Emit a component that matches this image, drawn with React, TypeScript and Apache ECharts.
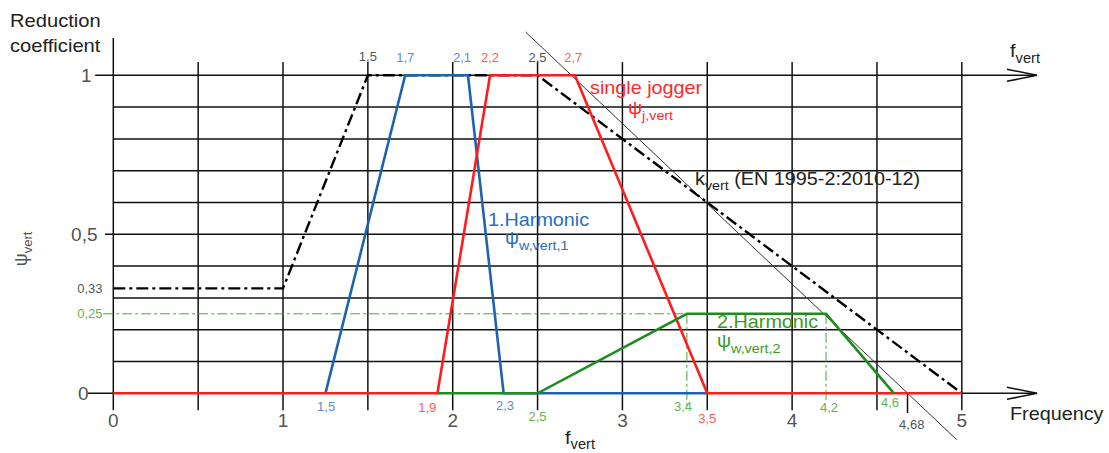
import React, { useEffect, useRef } from "react";
import * as echarts from "echarts";

// ---------------- data ----------------
const gridLinesX = [0, 0.5, 1, 1.5, 2, 2.5, 3, 3.5, 4, 4.5, 5];
const gridLinesY = [0.1, 0.2, 0.3, 0.4, 0.5, 0.6, 0.7, 0.8, 0.9];

const kVert = [[0, 0.33], [1, 0.33], [1.5, 1], [2.5, 1], [5, 0]];
const harmonic1 = [[1.25, 0], [1.72, 1], [2.09, 1], [2.3, 0], [3.5, 0]];
const singleJogger = [[0, 0], [1.91, 0], [2.22, 1], [2.72, 1], [3.5, 0], [5, 0]];
const harmonic2 = [[1.91, 0], [2.5, 0], [3.38, 0.25], [4.2, 0.25], [4.6, 0]];
const guideLine = [[2.43, 1.136], [4.97, -0.146]];
const harmonic2Level = 0.25;
const harmonic2Drops = [3.38, 4.2];
const kVertZero = 4.68;

const xTickValues = [0, 1, 2, 3, 4, 5];
const xTickLabels = ["0", "1", "2", "3", "4", "5"];
const yTickValues = [1, 0.5, 0.33, 0.25, 0];
const yTickLabels = ["1", "0,5", "0,33", "0,25", "0"];
const yTickKinds = ["big", "big", "small", "smallGreen", "big"];

const pointLabelTexts = ["1,5", "1,7", "2,1", "2,2", "2,5", "2,7", "1,5", "1,9", "2,3", "2,5", "3,4", "3,5", "4,2", "4,6", "4,68"];
const pointLabelX = [1.5, 1.72, 2.055, 2.22, 2.5, 2.71, 1.254, 1.85, 2.308, 2.5, 3.357, 3.5, 4.217, 4.577, 4.705];
const pointLabelY = [1.058, 1.055, 1.055, 1.055, 1.055, 1.055, -0.04, -0.046, -0.037, -0.072, -0.043, -0.078, -0.046, -0.03, -0.097];
const pointLabelOwner = ["k", "h1", "h1", "j", "k", "j", "h1", "j", "h1", "h2", "h2", "j", "h2", "h2", "k"];

// ---------------- styles ----------------
const FONT = "'Liberation Sans', Arial, Helvetica, sans-serif";
const RED = "#ff1c1c";
const BLUE = "#1f62b0";
const GREEN = "#1f8c1f";
const RED_T = "#ff2a2a";
const BLUE_T = "#2a6cc0";
const GREEN_T = "#3a9a24";
const GREEN_DASH = "#46a83a";
const BLACK = "#111";
const ownerColor: Record<string, string> = { k: "#222", h1: BLUE_T, j: RED_T, h2: GREEN_T };

// axis window mapped onto the full canvas
const X_MIN = -0.6677, X_MAX = 5.8673;
const Y_MIN = -0.1877, Y_MAX = 1.2368;

function subRich(main: number, sub: number, pad: number) {
  return {
    m: { fontSize: main, fontFamily: FONT },
    s: { fontSize: sub, fontFamily: FONT, padding: [pad, 0, 0, 0] },
  };
}

function txt(x: number, y: number, text: string, fill: string, opts: any = {}) {
  return {
    type: "text",
    x,
    y,
    scaleX: opts.scaleX ?? 1.1,
    silent: true,
    z: 100,
    style: {
      text,
      rich: opts.rich,
      fill,
      fontSize: opts.fontSize ?? 18,
      fontFamily: FONT,
      lineHeight: opts.lineHeight,
      textAlign: opts.align ?? "left",
      align: opts.align ?? "left",
      textVerticalAlign: "middle",
      verticalAlign: "middle",
    },
  };
}

export default function App() {
  const ref = useRef<HTMLDivElement>(null);

  useEffect(() => {
    if (!ref.current) return;
    const chart = echarts.init(ref.current, undefined, { renderer: "svg" });

    // grid segments
    const gridSegs: any[] = [];
    gridLinesX.forEach((x) => gridSegs.push({ coords: [[x, -0.053], [x, x === 0 ? 1.117 : 1.042]] }));
    gridLinesY.forEach((y) => gridSegs.push({ coords: [[y === 0.5 ? -0.049 : 0, y], [5, y]] }));
    gridSegs.push({ coords: [[-0.107, 1], [5.443, 1]] });
    gridSegs.push({ coords: [[-0.149, 0], [5.443, 0]] });
    [1, 0].forEach((y) =>
      gridSegs.push({ coords: [[5.266, y + 0.019], [5.443, y], [5.266, y - 0.019]] })
    );
    gridSegs.push({ coords: [[kVertZero, 0], [kVertZero, -0.062]] });

    const greenDash: any[] = [{ coords: [[-0.06, harmonic2Level], [harmonic2Drops[0], harmonic2Level]] }];
    harmonic2Drops.forEach((x, i) =>
      greenDash.push({ coords: [[x, harmonic2Level], [x, i === 0 ? -0.04 : -0.03]] })
    );

    const lineSeries = (name: string, data: number[][], color: string, width: number, z: number, type: any = "solid") => ({
      name,
      type: "line",
      data,
      showSymbol: false,
      symbol: "none",
      silent: true,
      z,
      lineStyle: { color, width, type, cap: "butt", join: "miter" },
    });

    const pointLabelData = pointLabelTexts.map((t, i) => ({
      value: [pointLabelX[i], pointLabelY[i]],
      label: { formatter: t, color: ownerColor[pointLabelOwner[i]] },
    }));

    const yLabelData = yTickLabels.map((t, i) => {
      const kind = yTickKinds[i];
      return {
        value: [kind === "big" ? (t === "1" ? -0.125 : t === "0" ? -0.143 : -0.09) : -0.061, yTickValues[i] + (kind === "smallGreen" ? 0.002 : 0)],
        label: {
          formatter: t,
          fontSize: kind === "big" ? 19 : 13,
          color: kind === "smallGreen" ? GREEN_T : "#222",
        },
      };
    });

    const xLabelData = xTickLabels.map((t, i) => ({ value: [xTickValues[i], -0.084], label: { formatter: t } }));

    const labelScatter = (name: string, data: any[], label: any) => ({
      name,
      type: "scatter",
      symbol: "circle",
      symbolSize: 1,
      itemStyle: { color: "rgba(0,0,0,0)" },
      silent: true,
      z: 10,
      label: { show: true, fontFamily: FONT, ...label },
      data,
    });

    chart.setOption({
      animation: false,
      grid: { left: 0, right: 0, top: 0, bottom: 0 },
      xAxis: { type: "value", min: X_MIN, max: X_MAX, show: false },
      yAxis: { type: "value", min: Y_MIN, max: Y_MAX, show: false },
      series: [
        {
          name: "grid",
          type: "lines",
          coordinateSystem: "cartesian2d",
          polyline: true,
          silent: true,
          z: 1,
          lineStyle: { color: BLACK, width: 1.5, opacity: 1 },
          data: gridSegs,
        },
        {
          name: "guide",
          type: "lines",
          coordinateSystem: "cartesian2d",
          polyline: true,
          silent: true,
          z: 2,
          lineStyle: { color: "#333", width: 1, opacity: 1 },
          data: [{ coords: guideLine }],
        },
        {
          name: "level",
          type: "lines",
          coordinateSystem: "cartesian2d",
          polyline: true,
          silent: true,
          z: 2,
          lineStyle: { color: GREEN_DASH, width: 1, opacity: 1, type: [10, 3, 3, 3] },
          data: greenDash,
        },
        lineSeries("k_vert", kVert, "#000", 2.4, 3, [12, 4, 3, 4]),
        lineSeries("1.Harmonic", harmonic1, BLUE, 2.6, 4),
        lineSeries("single jogger", singleJogger, RED, 2.6, 5),
        lineSeries("2.Harmonic", harmonic2, GREEN, 2.6, 6),
        labelScatter("pointLabels", pointLabelData, { position: "inside", fontSize: 13 }),
        labelScatter("yLabels", yLabelData, { position: "left", distance: 0 }),
        labelScatter("xLabels", xLabelData, { position: "inside", fontSize: 19, color: "#222" }),
        labelScatter(
          "yName",
          [{ value: [-0.545, 0.454] }],
          {
            position: "inside",
            rotate: 90,
            color: "#222",
            formatter: "{m|ψ}{s|vert}",
            rich: {
              m: { fontSize: 18, fontFamily: FONT, color: "#222" },
              s: { fontSize: 13, fontFamily: FONT, color: "#222", padding: [14, 0, 0, 0] },
            },
          }
        ),
      ],
      graphic: [
        txt(10, 33, "Reduction\ncoefficient", "#222", { lineHeight: 25, scaleX: 1.12 }),
        txt(1010, 50, "{m|f}{s|vert}", "#222", { rich: subRich(19, 14, 16), scaleX: 1.05 }),
        txt(1010, 414, "Frequency", "#222", { scaleX: 1.1 }),
        txt(565, 437, "{m|f}{s|vert}", "#222", { rich: subRich(19, 14, 14), scaleX: 1.05 }),
        txt(590, 87.5, "single jogger", RED_T),
        txt(628, 108, "{m|ψ}{s|j,vert}", RED_T, { rich: subRich(18, 13, 16) }),
        txt(695, 178.5, "{m|k}{s|vert}{m| (EN 1995-2:2010-12)}", "#222", { rich: subRich(18, 13, 14) }),
        txt(488, 220, "1.Harmonic", BLUE_T),
        txt(505, 238, "{m|ψ}{s|w,vert,1}", BLUE_T, { rich: subRich(18, 13, 16) }),
        txt(717, 322, "2.Harmonic", GREEN_T),
        txt(717, 341, "{m|ψ}{s|w,vert,2}", GREEN_T, { rich: subRich(18, 13, 16) }),
      ],
    });

    return () => chart.dispose();
  }, []);

  return (
    <div
      ref={ref}
      style={{ position: "absolute", left: 0, top: 0, width: 1109, height: 453, background: "#fff" }}
    />
  );
}
